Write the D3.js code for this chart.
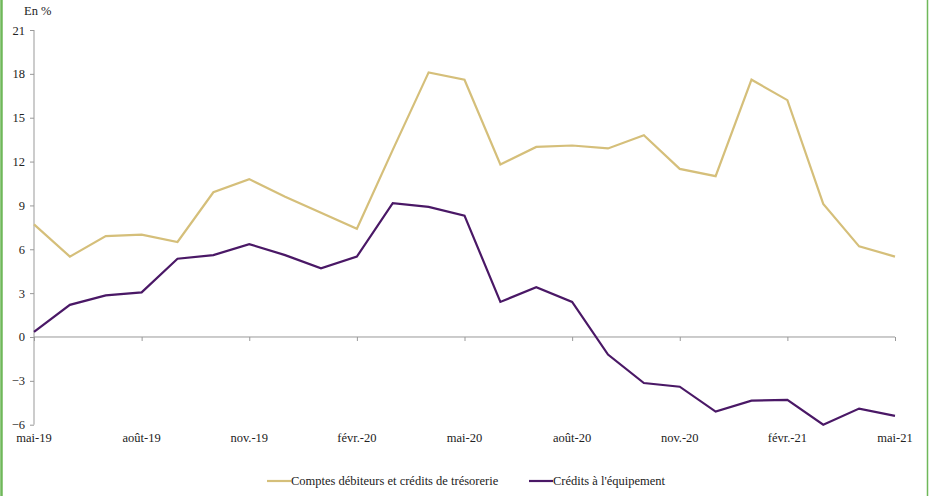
<!DOCTYPE html>
<html lang="fr">
<head>
    <meta charset="UTF-8">
    <title>Crédits aux entreprises</title>
    <script src="https://cdn.jsdelivr.net/npm/d3@7"></script>
    <style>
        body { margin: 0; background: #fff; }
        svg text { font-family: "Liberation Serif", "DejaVu Serif", serif !important; }
    </style>
</head>
<body>
</body>
<script>
    var width = 931
    var height = 496
    var font = "'Liberation Serif', serif"

    // mois, de mai-19 à mai-21
    var months = ['mai-19', 'juin-19', 'juil.-19', 'août-19', 'sept.-19', 'oct.-19', 'nov.-19', 'déc.-19',
        'janv.-20', 'févr.-20', 'mars-20', 'avr.-20', 'mai-20', 'juin-20', 'juil.-20', 'août-20', 'sept.-20',
        'oct.-20', 'nov.-20', 'déc.-20', 'janv.-21', 'févr.-21', 'mars-21', 'avr.-21', 'mai-21']
    var comptes = [7.7, 5.5, 6.9, 7.0, 6.5, 9.9, 10.8, 9.6, 8.5, 7.4, 12.8, 18.1, 17.6, 11.8, 13.0, 13.1, 12.9,
        13.8, 11.5, 11.0, 17.6, 16.2, 9.1, 6.2, 5.5]
    var equipement = [0.35, 2.2, 2.85, 3.05, 5.35, 5.6, 6.35, 5.6, 4.7, 5.5, 9.15, 8.9, 8.3, 2.4, 3.4, 2.4, -1.2,
        -3.15, -3.4, -5.1, -4.35, -4.3, -6.0, -4.9, -5.4]
    var yTicks = [-6, -3, 0, 3, 6, 9, 12, 15, 18, 21]
    var xTickLabels = ['mai-19', 'août-19', 'nov.-19', 'févr.-20', 'mai-20', 'août-20', 'nov.-20', 'févr.-21', 'mai-21']

    var series = [
        {name: 'Comptes débiteurs et crédits de trésorerie', values: comptes, color: '#d5bf7a'},
        {name: "Crédits à l'équipement", values: equipement, color: '#4a1866'}
    ]

    var svg = d3.select('body')
        .append('svg')
        .attr('width', width)
        .attr('height', height)
        .attr('font-family', font)
        .attr('font-size', 12.5);

    // bordure verte
    svg.append('line').attr('x1', 1.5).attr('x2', 1.5).attr('y1', 0).attr('y2', height)
        .attr('stroke', '#6fb85a').attr('stroke-width', 2.5)
    svg.append('line').attr('x1', 927.5).attr('x2', 927.5).attr('y1', 0).attr('y2', height)
        .attr('stroke', '#6fb85a').attr('stroke-width', 1.5)

    var x = d3.scalePoint().domain(months).range([34, 895])
    var y = d3.scaleLinear().domain([-6, 21]).range([424.7, 30])

    // axe Y
    var yAxis = svg.append('g')
        .attr('transform', 'translate(34,0)')
        .call(d3.axisLeft(y).tickValues(yTicks).tickSize(4).tickPadding(5))
    yAxis.attr('font-family', font).attr('font-size', 12.5)
    yAxis.selectAll('path, line').attr('stroke', '#999')
    yAxis.select('.domain').attr('d', 'M0,' + y(21) + 'V' + y(-6))
    yAxis.selectAll('text').attr('fill', '#222')

    // axe X sur la ligne zéro
    var xAxis = svg.append('g')
        .attr('transform', 'translate(0,' + y(0) + ')')
        .call(d3.axisBottom(x).tickValues(xTickLabels).tickSize(4).tickFormat(''))
    xAxis.selectAll('path, line').attr('stroke', '#999')
    xAxis.select('.domain').attr('d', 'M34,0H895')

    svg.append('g').selectAll('text')
        .data(xTickLabels)
        .enter()
        .append('text')
        .attr('x', d => x(d))
        .attr('y', 442)
        .attr('text-anchor', 'middle')
        .attr('fill', '#222')
        .text(d => d)

    svg.append('text').attr('x', 24).attr('y', 15).attr('fill', '#222').text('En %')

    var line = d3.line()
        .x((d, i) => x(months[i]))
        .y(d => y(d))

    svg.selectAll('.serie')
        .data(series)
        .enter()
        .append('path')
        .attr('class', 'serie')
        .attr('d', d => line(d.values))
        .attr('fill', 'none')
        .attr('stroke', d => d.color)
        .attr('stroke-width', 2.2)
        .attr('stroke-linejoin', 'miter')

    // légende
    var legendX = [267, 529]
    var legend = svg.selectAll('.legend')
        .data(series)
        .enter()
        .append('g')
        .attr('transform', (d, i) => 'translate(' + legendX[i] + ',481)')
    legend.append('line').attr('x1', 0).attr('x2', 24).attr('y1', 0).attr('y2', 0)
        .attr('stroke', d => d.color).attr('stroke-width', 2.2)
    legend.append('text').attr('x', 24).attr('y', 4).attr('fill', '#222').text(d => d.name)
</script>
</html>
